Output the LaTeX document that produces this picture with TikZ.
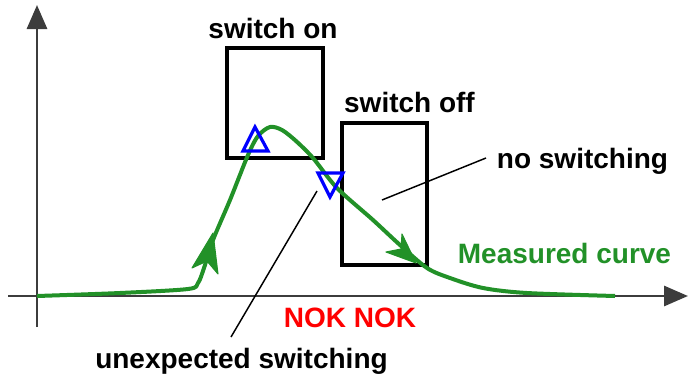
\documentclass[tikz,border=0pt]{standalone}
\usepackage{fontspec}
\setmainfont{Liberation Sans}
\usetikzlibrary{arrows.meta}
\definecolor{curvegreen}{RGB}{34,145,40}
\definecolor{axisgray}{RGB}{60,60,60}
\tikzset{
  lbl/.style={font=\fontsize{21}{25}\selectfont\bfseries, anchor=base, inner sep=1pt},
  axisline/.style={draw=axisgray, line width=2.2pt, -{Triangle[length=18pt,width=15pt]}},
  winbox/.style={draw=black, line width=3pt},
  meas/.style={draw=curvegreen, line width=3pt, line join=round},
  headshape/.style={fill=curvegreen, draw=curvegreen, line width=0.8pt, line join=round},
  tri/.style={draw=blue, line width=2.4pt, line join=miter},
  leader/.style={draw=black, line width=1.1pt}
}
\begin{document}
\begin{tikzpicture}[x=0.75pt,y=-0.75pt]
\useasboundingbox (0,0) rectangle (689,379);
% axes
\coordinate (xo) at (8,296);
\coordinate (xe) at (688,296);
\coordinate (yo) at (37,327);
\coordinate (ye) at (37,5);
\draw[axisline] (xo) -- (xe);
\draw[axisline] (yo) -- (ye);
% windows
\draw[winbox] (227,48) rectangle (323,158);
\draw[winbox] (342,123) rectangle (427,265);
% measured curve
\draw[meas] plot[smooth,tension=0.5] coordinates {(37,296) (120,293) (188,289) (198,283) (204,268) (213,240) (230,200) (248,155) (258,136) (270,127) (282,130) (296,141) (313,158) (337,188) (373,220) (400,245) (427,268) (450,278) (483,288) (527,293) (615,296)};
% arrowheads on the curve
\fill[headshape] (213,233) -- (218,274) -- (207,261) -- (192,268) -- cycle;
\fill[headshape] (416,263) -- (386,252) -- (401,249) -- (402,234) -- cycle;
% triangles
\draw[tri] (255,127) -- (243,151) -- (268,151) -- cycle;
\draw[tri] (318,173) -- (343,173) -- (330,197) -- cycle;
% labels
\node[lbl] (son) at (273,38) {switch on};
\node[lbl] (soff) at (409.5,112) {switch off};
\node[lbl] (ns) at (582.5,168) {no switching};
\node[lbl, text=curvegreen] (mc) at (564.5,263) {Measured curve};
\node[lbl, text=red] (nok) at (350,327) {NOK NOK};
\node[lbl] (us) at (241.5,368) {unexpected switching};
% leaders
\coordinate (nsA) at (382,200);
\coordinate (nsB) at (486,158);
\coordinate (usA) at (317,191);
\coordinate (usB) at (231,337);
\draw[leader] (nsA) -- (nsB);
\draw[leader] (usA) -- (usB);
\end{tikzpicture}
\end{document}
